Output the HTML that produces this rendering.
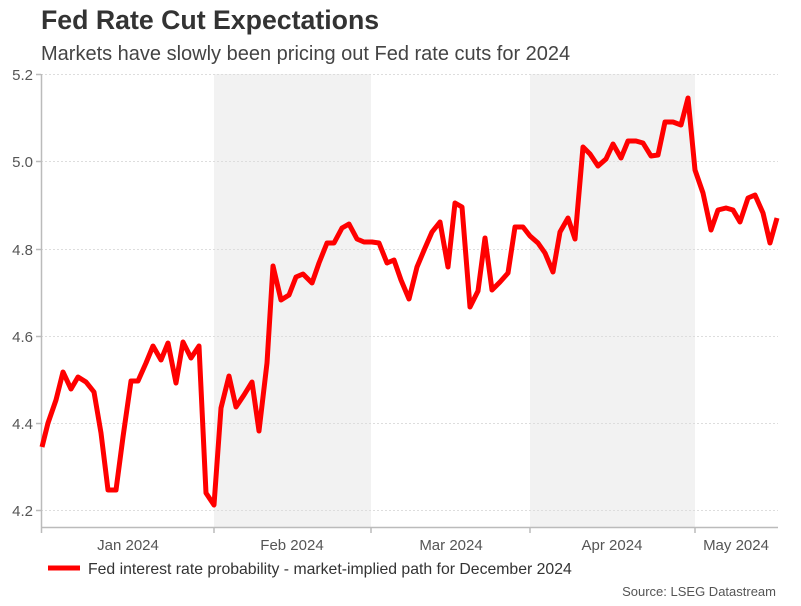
<!DOCTYPE html>
<html><head><meta charset="utf-8"><style>
body{margin:0;background:#fff;width:801px;height:601px;overflow:hidden;font-family:"Liberation Sans",Arial,sans-serif}
</style></head><body>
<svg width="801" height="601" xmlns="http://www.w3.org/2000/svg" font-family="Liberation Sans, Arial, sans-serif">
<text x="41" y="29" font-size="26.7" font-weight="bold" fill="#333">Fed Rate Cut Expectations</text>
<text x="41" y="60" font-size="20" fill="#444">Markets have slowly been pricing out Fed rate cuts for 2024</text>
<rect x="214" y="74" width="157" height="453" fill="#f2f2f2"/>
<rect x="530" y="74" width="165" height="453" fill="#f2f2f2"/>
<g stroke="#ddd" stroke-dasharray="2,2" stroke-width="1">
<line x1="41" x2="778" y1="74.5" y2="74.5"/><line x1="41" x2="778" y1="161.5" y2="161.5"/>
<line x1="41" x2="778" y1="249.5" y2="249.5"/><line x1="41" x2="778" y1="336.5" y2="336.5"/>
<line x1="41" x2="778" y1="423.5" y2="423.5"/><line x1="41" x2="778" y1="510.5" y2="510.5"/>
</g>
<g stroke="#bbb" stroke-width="1.5">
<line x1="41.5" y1="74" x2="41.5" y2="533"/><line x1="41" y1="527.5" x2="778" y2="527.5"/>
<line x1="36" y1="74.5" x2="41" y2="74.5"/><line x1="36" y1="161.5" x2="41" y2="161.5"/><line x1="36" y1="249.5" x2="41" y2="249.5"/><line x1="36" y1="336.5" x2="41" y2="336.5"/><line x1="36" y1="423.5" x2="41" y2="423.5"/><line x1="36" y1="510.5" x2="41" y2="510.5"/>
<line x1="214" y1="527" x2="214" y2="533"/><line x1="371" y1="527" x2="371" y2="533"/><line x1="530" y1="527" x2="530" y2="533"/><line x1="695" y1="527" x2="695" y2="533"/>
</g>
<g font-size="15" fill="#555" text-anchor="end">
<text x="33" y="80">5.2</text><text x="33" y="167">5.0</text><text x="33" y="255">4.8</text><text x="33" y="342">4.6</text><text x="33" y="429">4.4</text><text x="33" y="516">4.2</text>
</g>
<g font-size="15" fill="#555" text-anchor="middle">
<text x="128" y="550">Jan 2024</text><text x="292" y="550">Feb 2024</text><text x="451" y="550">Mar 2024</text><text x="612" y="550">Apr 2024</text><text x="736" y="550">May 2024</text>
</g>
<polyline fill="none" stroke="#ff0000" stroke-width="5" stroke-linejoin="round" points="42,447 48,423 56,400 63,372 71,389 78,377 86,382 94,392 101,433 108,490 116,490 123,437 131,381 138,381 146,363 153,346 161,360 168,343 176,383 183,342 191,358 199,346 206,493 214,505 221,408 229,376 236,407 244,395 252,382 259,431 267,363 273,266 281,300 289,295 296,277 303,274 312,283 319,263 327,243 334,243 342,228 349,224 357,239 364,242 372,242 379,243 387,263 394,260 401,280 409,299 417,267 425,248 432,232 440,222 448,267 455,203 462,207 470,307 478,291 485,238 492,290 500,282 508,273 515,227 523,227 530,236 538,243 545,253 553,272 560,232 568,218 575,239 583,147 590,154 598,166 606,159 613,144 621,158 628,141 636,141 643,143 651,156 658,155 665,122 673,122 681,125 688,98 695,170 703,193 711,230 718,210 726,208 733,210 740,222 748,198 755,195 763,213 770,243 777,218"/>
<line x1="48" y1="568" x2="80" y2="568" stroke="#ff0000" stroke-width="5"/>
<text x="88" y="574" font-size="15.8" fill="#333">Fed interest rate probability - market-implied path for December 2024</text>
<text x="776" y="596" font-size="13" fill="#555" text-anchor="end">Source: LSEG Datastream</text>
</svg>
</body></html>
